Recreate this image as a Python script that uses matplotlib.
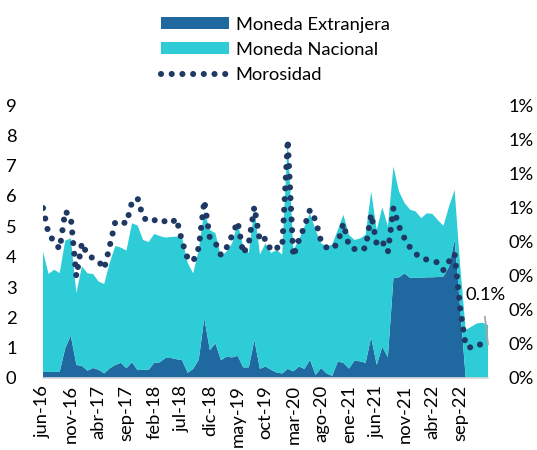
import matplotlib
matplotlib.use("Agg")
import matplotlib.pyplot as plt
from matplotlib.lines import Line2D
from matplotlib.patches import Patch

# ---------------- data (monthly, jun-16 ... feb-23) ----------------
tick_labels = ["jun-16", "nov-16", "abr-17", "sep-17", "feb-18", "jul-18",
               "dic-18", "may-19", "oct-19", "mar-20", "ago-20", "ene-21",
               "jun-21", "nov-21", "abr-22", "sep-22"]

moneda_extranjera = [
    0.2, 0.2, 0.2, 0.2, 0.98, 1.4, 0.43, 0.4, 0.24, 0.33,
    0.27, 0.15, 0.32, 0.43, 0.5, 0.32, 0.52, 0.26, 0.27, 0.27,
    0.5, 0.52, 0.66, 0.66, 0.62, 0.59, 0.17, 0.3, 0.6, 1.97,
    0.92, 1.14, 0.59, 0.7, 0.68, 0.73, 0.35, 0.35, 1.25, 0.3,
    0.38, 0.27, 0.18, 0.15, 0.3, 0.22, 0.38, 0.3, 0.6, 0.1,
    0.33, 0.15, 0.07, 0.54, 0.5, 0.31, 0.57, 0.55, 0.5, 1.34,
    0.43, 1.03, 0.68, 3.29, 3.32, 3.45, 3.3, 3.3, 3.3, 3.32,
    3.32, 3.33, 3.35, 3.67, 4.55, 2.3, 0.0, 0.0, 0.0, 0.0,
    0.0]

moneda_nacional = [
    3.97, 3.23, 3.37, 3.26, 3.55, 3.2, 2.37, 3.28, 3.21, 3.1,
    2.91, 2.95, 3.48, 3.92, 3.8, 3.88, 4.58, 4.77, 4.28, 4.21,
    4.25, 4.16, 3.97, 3.99, 4.04, 4.05, 3.63, 3.15, 3.62, 3.53,
    3.96, 3.63, 3.41, 3.47, 3.76, 4.37, 3.98, 3.77, 4.32, 3.77,
    4.06, 3.85, 4.04, 3.92, 7.55, 4.0, 4.17, 4.69, 4.83, 4.78,
    4.11, 4.18, 4.33, 4.34, 4.88, 4.41, 3.98, 4.05, 4.22, 4.81,
    4.45, 4.6, 4.32, 3.68, 2.83, 2.32, 2.25, 2.19, 1.97, 2.11,
    2.09, 1.87, 1.67, 1.99, 1.65, 1.4, 1.58, 1.69, 1.8, 1.82,
    1.75]

morosidad_pct = [
    0.498, 0.422, 0.400, 0.378, 0.489, 0.471, 0.298, 0.396, 0.360, 0.351,
    0.342, 0.320, 0.387, 0.458, 0.458, 0.453, 0.516, 0.527, 0.471, 0.458,
    0.462, 0.467, 0.458, 0.453, 0.467, 0.400, 0.351, 0.342, 0.382, 0.520,
    0.409, 0.396, 0.360, 0.382, 0.418, 0.458, 0.364, 0.396, 0.502, 0.400,
    0.409, 0.373, 0.382, 0.382, 0.698, 0.356, 0.404, 0.444, 0.493, 0.462,
    0.400, 0.382, 0.378, 0.396, 0.453, 0.387, 0.378, 0.373, 0.382, 0.480,
    0.391, 0.400, 0.369, 0.498, 0.444, 0.409, 0.382, 0.364, 0.351, 0.347,
    0.344, 0.338, 0.316, 0.342, 0.364, 0.204, 0.093, 0.089, 0.098, 0.098,
    0.098]

left_ticks = [0, 1, 2, 3, 4, 5, 6, 7, 8, 9]
right_ticks = [0.0, 0.1, 0.2, 0.3, 0.4, 0.5, 0.6, 0.7, 0.8]
right_tick_labels = ["0%", "0%", "0%", "0%", "0%", "1%", "1%", "1%", "1%"]
last_label = "0.1%"

# ---------------- styling ----------------
c_ext = "#1F69A0"
c_nac = "#2ECCD6"
c_mor = "#1F3864"
FONT = "Lato"
FS = 13.2

plt.rcParams["font.family"] = [FONT, "DejaVu Sans"]

fig = plt.figure(figsize=(5.37, 4.50), dpi=100)
ax = fig.add_axes([43 / 537, 1 - 378 / 450, (488 - 43) / 537, (378 - 105) / 450])

x = list(range(len(moneda_extranjera)))
ax.stackplot(x, moneda_extranjera, moneda_nacional,
             colors=[c_ext, c_nac], linewidth=0)

ax.set_xlim(0, len(x) - 1)
ax.set_ylim(0, 9)
ax.set_yticks(left_ticks)
ax.set_yticklabels([str(t) for t in left_ticks], fontsize=FS)
ax.set_xticks(list(range(0, len(x) - 1, 5)))
ax.set_xticklabels(tick_labels, rotation=90, fontsize=FS)
ax.tick_params(axis="both", length=0)
ax.tick_params(axis="y", pad=19)
ax.tick_params(axis="x", pad=5)
for s in ["top", "right", "left"]:
    ax.spines[s].set_visible(False)
ax.spines["bottom"].set_color("#D9D9D9")
ax.spines["bottom"].set_linewidth(1.2)

ax2 = ax.twinx()
lw = 4.4
ax2.plot(x, morosidad_pct, color=c_mor, linewidth=lw,
         linestyle=(0, (0.001, 1.75)), dash_capstyle="round")
ax2.set_ylim(0, 0.8)
ax2.set_yticks(right_ticks)
ax2.set_yticklabels(right_tick_labels, fontsize=FS)
ax2.tick_params(axis="y", length=0, pad=15)
for s in ["top", "right", "left", "bottom"]:
    ax2.spines[s].set_visible(False)

ax2.annotate(last_label, xy=(x[-1], morosidad_pct[-1]),
             xytext=(x[-1] - 4.1, morosidad_pct[-1] + 0.146),
             fontsize=FS, ha="left", va="center",
             arrowprops=dict(arrowstyle="-", color="#A6A6A6", lw=1.3,
                             shrinkA=8, shrinkB=0,
                             relpos=(0.45, 0.0)))

handles = [Patch(facecolor=c_ext, edgecolor="none"),
           Patch(facecolor=c_nac, edgecolor="none"),
           Line2D([0], [0], color=c_mor, linewidth=lw,
                  linestyle=(0, (0.001, 1.75)), dash_capstyle="round")]
labels = ["Moneda Extranjera", "Moneda Nacional", "Morosidad"]
fig.legend(handles, labels, loc="upper left",
           bbox_to_anchor=(146 / 537, 1 - 2 / 450),
           frameon=False, fontsize=FS, handlelength=3.7, handleheight=0.62,
           handletextpad=0.4, labelspacing=0.5, borderpad=0.3)

fig.savefig("out.png", dpi=100)
